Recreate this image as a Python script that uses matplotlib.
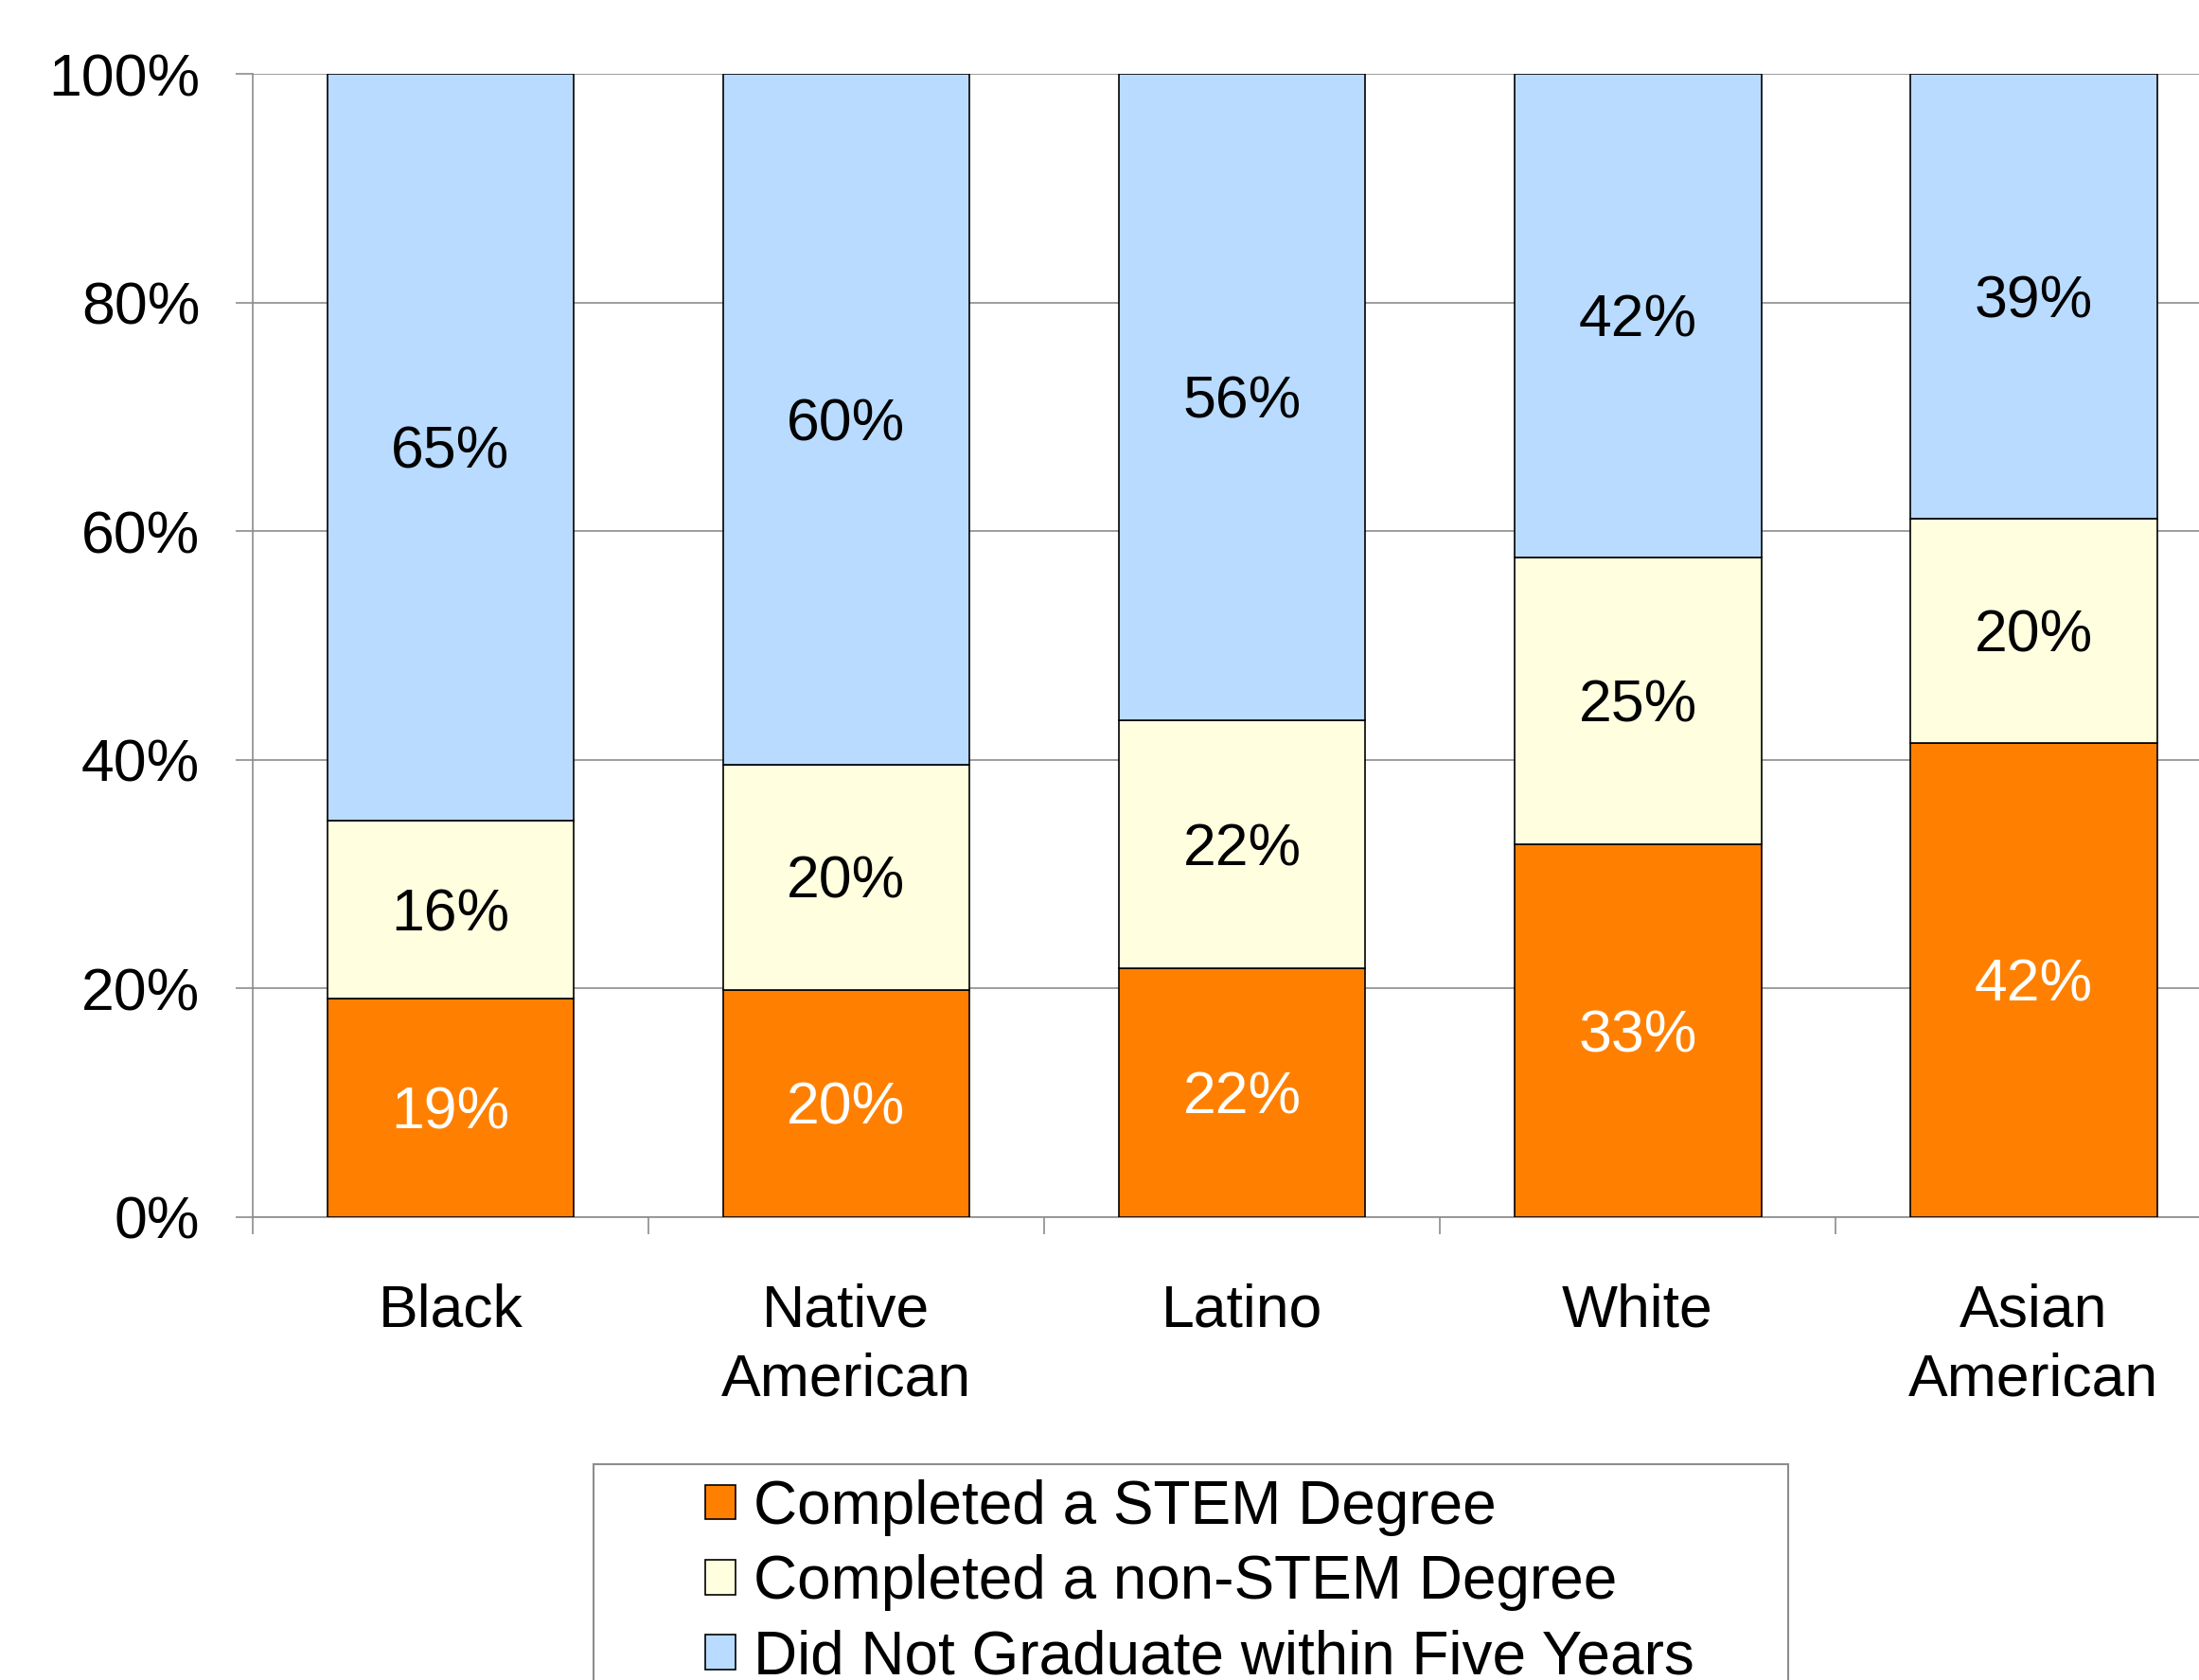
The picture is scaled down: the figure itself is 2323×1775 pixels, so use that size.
import numpy as np
import matplotlib
matplotlib.use("Agg")
import matplotlib.pyplot as plt
import matplotlib.patches as mpatch

# values (percent of each group)
groups = ["Black", "Native\nAmerican", "Latino", "White", "Asian\nAmerican"]
stem = [19.1, 19.9, 21.7, 32.6, 41.6]
non_stem = [15.6, 19.7, 21.7, 25.1, 19.6]
no_grad = [65.3, 60.4, 56.4, 42.3, 39.0]
series_names = ["Completed a STEM Degree",
                "Completed a non-STEM Degree",
                "Did Not Graduate within Five Years"]
y_ticks = [0, 20, 40, 60, 80, 100]

colors = ["#FF8000", "#FFFFE0", "#B9DBFF"]
text_colors = ["white", "black", "black"]
grey = "#8C8C8C"
fs = 45

plt.rcParams["font.family"] = ["Liberation Sans", "DejaVu Sans"]

fig = plt.figure(figsize=(23.23, 17.75), dpi=100)
ax = fig.add_axes([0.1149, 0.2755, 0.8998, 0.6803])

# 100% stacked bars
data = np.array([stem, non_stem, no_grad])
shares = data / data.sum(axis=0) * 100
x = np.arange(len(groups))
bottom = np.zeros(len(groups))
for vals, share, col, tc, name in zip(data, shares, colors, text_colors, series_names):
    ax.bar(x, share, 0.624, bottom=bottom, color=col, edgecolor="black",
           linewidth=1.2, label=name, zorder=3)
    for xi, b, s, v in zip(x, bottom, share, vals):
        ax.annotate("%d%%" % round(v), (xi, b + s / 2), xytext=(0, -4),
                    textcoords="offset points", ha="center", va="center",
                    color=tc, fontsize=fs, zorder=4)
    bottom += share

ax.set_xlim(-0.5, len(groups) - 0.5)
ax.set_ylim(0, 100)
ax.set_yticks(y_ticks)
ax.set_yticklabels(["%d%%" % t for t in y_ticks])
ax.yaxis.grid(True, color=grey, linewidth=1.2, zorder=0)
ax.set_axisbelow(True)

ax.set_xticks(np.arange(-0.5, len(groups), 1))
ax.set_xticklabels([])
ax.set_xticks(x, minor=True)
ax.set_xticklabels(groups, minor=True, fontsize=fs, linespacing=1.3)
ax.tick_params(axis="x", which="minor", length=0, pad=50)
ax.tick_params(axis="x", which="major", length=13, width=1.2, color=grey)
ax.tick_params(axis="y", length=13, width=1.2, color=grey, pad=27, labelsize=fs)

for side in ["top", "right"]:
    ax.spines[side].set_visible(False)
for side in ["left", "bottom"]:
    ax.spines[side].set_color(grey)
    ax.spines[side].set_linewidth(1.2)

# legend box (runs off the bottom edge like the original)
fig.add_artist(mpatch.Rectangle((0.2699, -0.02), 0.5433, 0.1485,
                                transform=fig.transFigure, fill=False,
                                edgecolor=grey, linewidth=1.5))
fig.legend(loc="upper left", bbox_to_anchor=(0.3207, 0.1195), frameon=False,
           fontsize=46, handlelength=0.5, handleheight=0.5, handletextpad=0.3,
           labelspacing=0.3, borderpad=0, borderaxespad=0)

fig.savefig("out.png", dpi=100)
